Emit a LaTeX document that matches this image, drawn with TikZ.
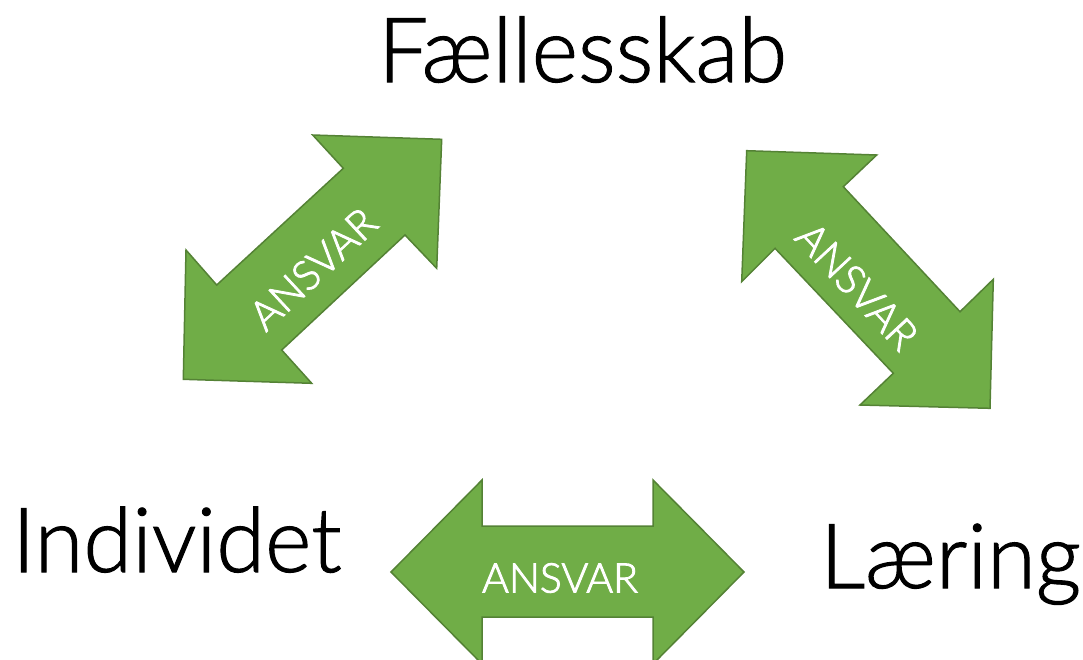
\documentclass[tikz,border=0pt]{standalone}
\usepackage{fontspec}
\setmainfont{Carlito}
\newfontfamily\lightfont[FakeBold=1.2,FakeStretch=0.985]{Lato Light}
\newfontfamily\lightlabel[FakeBold=2.2]{Lato Light}
\definecolor{arrgreen}{HTML}{70AD47}
\definecolor{arredge}{HTML}{548235}
\tikzset{
  bigarrow/.style={fill=arrgreen, draw=arredge, line width=1.5pt, line join=miter},
  word/.style={inner sep=0pt, anchor=base west, font=\lightfont\fontsize{90}{90}\selectfont},
  arrowlabel/.style={inner sep=0pt, text=white, font=\lightlabel\fontsize{41}{41}\selectfont}
}
\begin{document}
\begin{tikzpicture}[x=1pt,y=-1pt]
\useasboundingbox (0,0) rectangle (1083,659);
\begin{scope}
\clip (0,0) rectangle (1083,659);
% left diagonal arrow
\draw[bigarrow] (441.7,139.3) -- (312.7,135) -- (343.3,168.3) -- (216.7,285) -- (186,250)
  -- (183.3,379.3) -- (311.7,383.3) -- (281.7,350) -- (405,235) -- (436.7,268.3) -- cycle;
% right diagonal arrow
\draw[bigarrow] (746.7,150.7) -- (876.7,155) -- (843.3,186.7) -- (960,311.7) -- (993.3,279.3)
  -- (990,408.3) -- (860,405) -- (893.3,373.3) -- (775,248.3) -- (741.7,281.7) -- cycle;
% bottom horizontal arrow
\draw[bigarrow] (391,572) -- (482,480) -- (482,526) -- (653,526) -- (653,480) -- (744,572)
  -- (653,664) -- (653,617) -- (482,617) -- (482,664) -- cycle;
\end{scope}
% labels on arrows
\node[arrowlabel, rotate=43] (ansvarL) at (313,269) {ANSVAR};
\node[arrowlabel, rotate=-47] (ansvarR) at (857,286) {ANSVAR};
\node[arrowlabel] (ansvarB) at (560,578) {ANSVAR};
% words
\node[word] (faelles) at (378,82) {Fællesskab};
\node[word] (individ) at (12,572) {Individet};
\node[word] (laering) at (820,588) {Læring};
\end{tikzpicture}
\end{document}
